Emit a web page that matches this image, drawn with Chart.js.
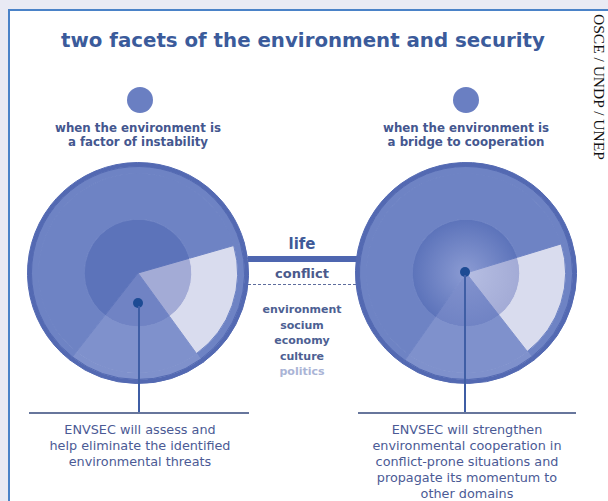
<!DOCTYPE html>
<html>
<head>
<meta charset="utf-8">
<script src="https://cdn.jsdelivr.net/npm/chart.js@4"></script>
<style>
  body { margin: 0; width: 608px; height: 501px; background: #e9eaf4; position: relative; overflow: hidden; font-family: "DejaVu Sans", sans-serif; }
  .abs { position: absolute; }
  .t { position: absolute; text-align: center; white-space: nowrap; }
  .b { font-weight: bold; color: #44578f; }
  .note { font-family: "DejaVu Sans", sans-serif; font-size: 12.8px; line-height: 16px; color: #4b5a95; }
</style>
</head>
<body>
<div class="abs" style="left:8px;top:9px;right:0;bottom:0;background:#fff;border-left:2px solid #4a82c8;border-top:2px solid #4a82c8;"></div>

<div class="t b" style="left:0;width:606px;top:29px;font-size:19.8px;line-height:24px;color:#3b5b9b;">two facets of the environment and security</div>

<div class="abs" style="left:127px;top:87px;width:26px;height:26px;border-radius:50%;background:#6a7fc2;"></div>
<div class="abs" style="left:453px;top:87px;width:26px;height:26px;border-radius:50%;background:#6a7fc2;"></div>

<div class="t b" style="left:38px;width:200px;top:121px;font-size:11.8px;line-height:14px;">when the environment is<br>a factor of instability</div>
<div class="t b" style="left:366px;width:200px;top:121px;font-size:11.8px;line-height:14px;">when the environment is<br>a bridge to cooperation</div>

<div class="abs" style="left:248px;top:256px;width:110px;height:6px;background:#4e66b0;"></div>
<div class="abs" style="left:193px;top:284px;width:163px;height:0;border-top:1px dashed #5d6c9c;"></div>

<div class="abs" style="left:27px;top:162px;width:222px;height:222px;"><canvas id="left" width="222" height="222"></canvas></div>
<div class="abs" style="left:355px;top:162px;width:222px;height:222px;"><canvas id="right" width="222" height="222"></canvas></div>

<div class="t b" style="left:252px;width:100px;top:235px;font-size:15px;line-height:18px;color:#3f5a98;">life</div>
<div class="t b" style="left:252px;width:100px;top:266px;font-size:13px;line-height:16px;color:#4a5a8c;">conflict</div>
<div class="t b" style="left:252px;width:100px;top:302px;font-size:11px;line-height:15.5px;color:#4d5f93;">environment<br>socium<br>economy<br>culture<br><span style="color:#aab4d6">politics</span></div>

<div class="abs" style="left:133px;top:298px;width:10px;height:10px;border-radius:50%;background:#1d4b94;"></div>
<div class="abs" style="left:138px;top:306px;width:2px;height:107px;background:#3f5ea5;"></div>
<div class="abs" style="left:460px;top:267px;width:10px;height:10px;border-radius:50%;background:#1d4b94;"></div>
<div class="abs" style="left:464px;top:275px;width:2px;height:138px;background:#3f5ea5;"></div>

<div class="abs" style="left:29px;top:412px;width:220px;height:2px;background:#67769c;"></div>
<div class="abs" style="left:358px;top:412px;width:218px;height:2px;background:#67769c;"></div>

<div class="t note" style="left:40px;width:200px;top:422px;">ENVSEC will assess and<br>help eliminate the identified<br>environmental threats</div>
<div class="t note" style="left:367px;width:200px;top:422px;">ENVSEC will strengthen<br>environmental cooperation in<br>conflict-prone situations and<br>propagate its momentum to<br>other domains</div>

<div class="t" style="left:607px;top:14px;transform-origin:0 0;transform:rotate(90deg);font-family:'Liberation Serif',serif;font-size:15.5px;line-height:16px;color:#111;">OSCE / UNDP / UNEP</div>

<script>
// sectors of each disc, clockwise, angles in degrees
const sectors = ["threat wedge", "lower wedge", "rest of disc"];
const leftAngles = [70, 74, 216];
const rightAngles = [69, 73, 218];

const rimColors = ["#5369b2", "#5369b2", "#5369b2"];
const edgeColors = ["#6e83c4", "#7f91cc", "#6e83c4"];
const midColors = ["#d9dcee", "#7f91cc", "#6e83c4"];
const coreColors = ["#a3abd6", "#7083c4", "#5c73ba"];
const coreGlow = ["#b6bee2", "#8393ce", "#8b9bd3"];

function disc(id, angles, startAt, glow) {
  const core = glow ? function (c) {
    const a = c.chart.chartArea;
    if (!a) return coreColors[c.dataIndex];
    const cx = (a.left + a.right) / 2, cy = (a.top + a.bottom) / 2;
    const g = c.chart.ctx.createRadialGradient(cx, cy, 0, cx, cy, 54);
    g.addColorStop(0, coreGlow[c.dataIndex]);
    g.addColorStop(1, coreColors[c.dataIndex]);
    return g;
  } : coreColors;

  const ring = (colors, weight) => ({
    data: angles, backgroundColor: colors, borderColor: colors, weight: weight
  });

  new Chart(document.getElementById(id), {
    type: "pie",
    data: {
      labels: sectors,
      datasets: [
        ring(rimColors, 4),
        ring(edgeColors, 7),
        ring(midColors, 46),
        ring(core, 54)
      ]
    },
    options: {
      responsive: false,
      animation: false,
      events: [],
      rotation: startAt,
      borderWidth: 1,
      hoverBorderWidth: 1,
      offset: 0,
      hoverOffset: 0,
      layout: { padding: 0 },
      plugins: { legend: { display: false }, tooltip: { enabled: false } }
    }
  });
}

disc("left", leftAngles, 74, false);
disc("right", rightAngles, 73, true);
</script>
</body>
</html>
